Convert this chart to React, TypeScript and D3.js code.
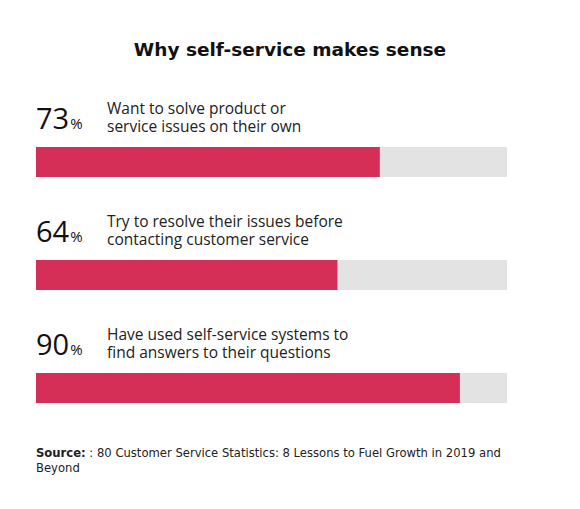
import React from "react";
import * as d3 from "d3";

const categories = [
  ["Want to solve product or", "service issues on their own"],
  ["Try to resolve their issues before", "contacting customer service"],
  ["Have used self-service systems to", "find answers to their questions"],
];
const values = [73, 64, 90];
const title = "Why self-service makes sense";
const sourceLines = [": 80 Customer Service Statistics: 8 Lessons to Fuel Growth in 2019 and", "Beyond"];

const W = 580;
const H = 509;
const FONT = "'Open Sans', 'DejaVu Sans', sans-serif";
const WIDE = "'DejaVu Sans', sans-serif";

function measure(text: string, font: string): number {
  if (typeof document === "undefined") return text.length * 16;
  const c = document.createElement("canvas").getContext("2d");
  if (!c) return text.length * 16;
  c.font = font;
  return c.measureText(text).width;
}

export default function App() {
  const x = d3.scaleLinear().domain([0, 100]).range([36, 507]);
  const y = d3.scaleBand<number>().domain(d3.range(values.length)).range([147, 486]);
  const barH = 30;
  const srcSize = 11.6;
  return (
    <svg width={W} height={H} style={{ position: "absolute", left: 0, top: 0, background: "#fff" }} fontFamily={FONT}>
      <text x={290} y={56} textAnchor="middle" fontSize={18.5} fontWeight={700} fill="#111" fontFamily={WIDE}>{title}</text>
      {values.map((v, i) => {
        const top = y(i)!;
        const numW = measure(String(v), `29px 'Open Sans'`);
        return (
          <g key={i}>
            <text x={x(0)} y={top - 18} fill="#111" fontSize={29}>{v}</text>
            <text x={x(0) + numW + 1} y={top - 18} fill="#111" fontSize={15}>%</text>
            <text x={107} y={top - 33} fontSize={15.5} fill="#222">
              <tspan x={107}>{categories[i][0]}</tspan>
              <tspan x={107} dy={18}>{categories[i][1]}</tspan>
            </text>
            <rect x={x(0)} y={top} width={x(100) - x(0)} height={barH} fill="#e3e3e3" />
            <rect x={x(0)} y={top} width={x(v) - x(0)} height={barH} fill="#d52f58" />
          </g>
        );
      })}
      <text x={36} y={457} fontSize={srcSize} fill="#222" fontFamily={WIDE}>
        <tspan x={36} fontWeight={700}>Source:</tspan>
        <tspan> {sourceLines[0]}</tspan>
        <tspan x={36} dy={15}>{sourceLines[1]}</tspan>
      </text>
    </svg>
  );
}
